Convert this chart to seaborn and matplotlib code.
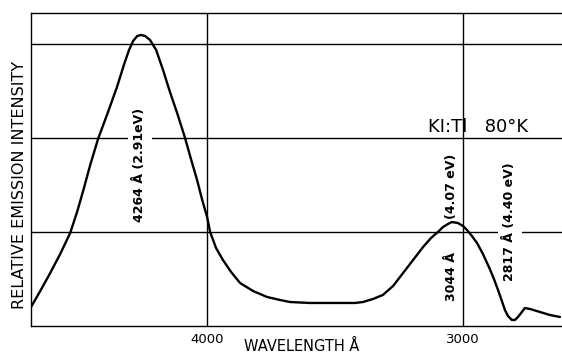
import matplotlib
matplotlib.use("Agg")
import matplotlib.pyplot as plt
import seaborn as sns
import pandas as pd

# Emission spectrum of KI:Tl at 80 K (wavelength in angstrom, relative intensity)
wavelength = [4688, 4652, 4613, 4574, 4535, 4508, 4484, 4457, 4426, 4387,
              4352, 4324, 4305, 4289, 4273, 4258, 4242, 4223, 4199, 4172,
              4145, 4117, 4086, 4063, 4039, 4020, 4000, 3988, 3965, 3938,
              3906, 3871, 3820, 3766, 3715, 3676, 3598, 3480, 3422, 3391,
              3352, 3313, 3273, 3234, 3195, 3156, 3125, 3098, 3078, 3059,
              3044, 3020, 3000, 2984, 2965, 2945, 2922, 2895, 2879, 2863,
              2848, 2836, 2824, 2809, 2797, 2785, 2773, 2758, 2738, 2699,
              2660, 2621]
intensity = [0.202, 0.372, 0.564, 0.766, 0.989, 1.213, 1.440, 1.710, 1.990, 2.277,
             2.543, 2.787, 2.936, 3.032, 3.085, 3.096, 3.085, 3.043, 2.936, 2.723,
             2.489, 2.266, 2.000, 1.777, 1.553, 1.351, 1.160, 1.000, 0.830, 0.702,
             0.574, 0.457, 0.372, 0.309, 0.277, 0.255, 0.245, 0.245, 0.245, 0.255,
             0.287, 0.330, 0.426, 0.564, 0.702, 0.840, 0.936, 1.000, 1.053, 1.085,
             1.106, 1.096, 1.064, 1.021, 0.957, 0.883, 0.766, 0.606, 0.500, 0.383,
             0.266, 0.170, 0.106, 0.064, 0.064, 0.096, 0.138, 0.191, 0.181, 0.149,
             0.117, 0.096]

xticks = [4000, 3000]
xtick_labels = ["4000", "3000"]
grid_levels = [1, 2, 3]

peak_labels = ["4264 Å (2.91eV)", "3044 Å", "(4.07 eV)", "2817 Å (4.40 eV)"]
peak_x = [4264, 3044, 3044, 2817]
peak_y = [1.71, 0.53, 1.49, 1.11]
peak_box = [True, False, False, True]

df = pd.DataFrame({"wavelength": wavelength, "intensity": intensity})

sns.set_style("white")
plt.rcParams["font.family"] = ["DejaVu Sans"]
plt.rcParams["text.color"] = "black"
plt.rcParams["axes.labelcolor"] = "black"
plt.rcParams["xtick.color"] = "black"

fig = plt.figure(figsize=(5.62, 3.54), dpi=100)
ax = fig.add_axes([0.0552, 0.0791, 0.9448, 0.8842])

for lv in grid_levels:
    ax.axhline(lv, color="black", lw=1.0, zorder=1)
for xv in xticks:
    ax.axvline(xv, color="black", lw=1.0, zorder=1)

sns.lineplot(data=df, x="wavelength", y="intensity", sort=False,
             estimator=None, color="black", lw=1.7, ax=ax, zorder=2)

ax.set_xlim(4688, 2613)
ax.set_ylim(0, 3.33)
ax.set_xticks(xticks)
ax.set_xticklabels(xtick_labels, fontsize=9.5)
ax.set_yticks([])
ax.tick_params(axis="x", length=3, width=1, color="black", pad=2)

for sp in ["left", "top", "bottom"]:
    ax.spines[sp].set_visible(True)
    ax.spines[sp].set_color("black")
    ax.spines[sp].set_linewidth(1.0)
ax.spines["right"].set_visible(False)

ax.set_xlabel("WAVELENGTH Å", fontsize=10.5)
ax.xaxis.set_label_coords(0.51, -0.04)
ax.set_ylabel("RELATIVE EMISSION INTENSITY", fontsize=11.5)
ax.yaxis.set_label_coords(-0.008, 0.45)

for txt, xv, yv, boxed in zip(peak_labels, peak_x, peak_y, peak_box):
    kw = {}
    if boxed:
        kw["bbox"] = dict(facecolor="white", edgecolor="none", pad=4)
    ax.text(xv, yv, txt, rotation=90, ha="center", va="center",
            fontsize=9, fontweight="bold", zorder=3, **kw)

ax.text(2941, 2.12, "KI:Tl   80°K", ha="center", va="center",
        fontsize=13, zorder=3)

fig.savefig("out.png", dpi=100)
